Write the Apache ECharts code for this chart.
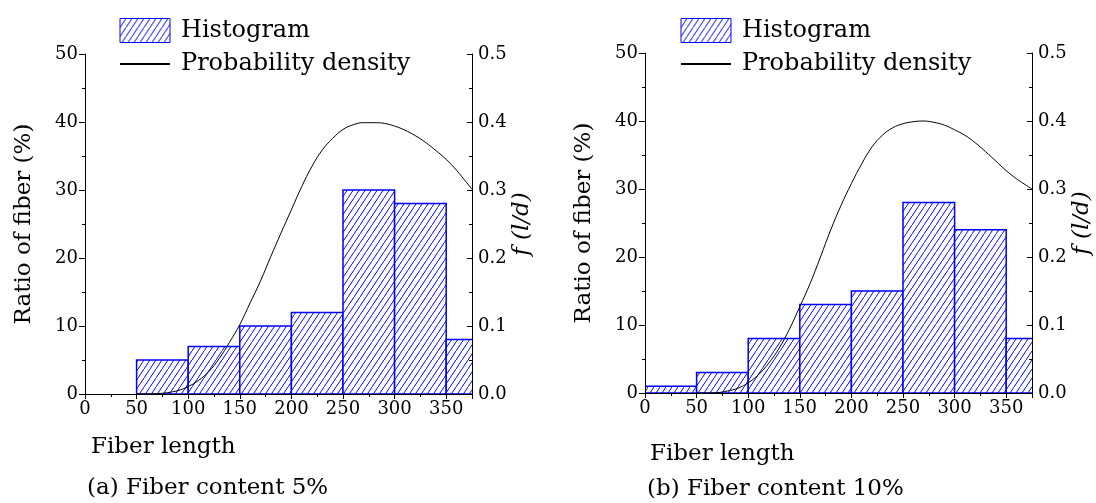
<!DOCTYPE html>
<html>
<head>
<meta charset="utf-8">
<script src="https://cdn.jsdelivr.net/npm/echarts@6/dist/echarts.min.js"></script>
<style>
html,body{margin:0;padding:0;background:#fff;}
#chart{width:1096px;height:503px;}
</style>
</head>
<body>
<div id="chart"></div>
<script>
// ---- data ----
const binStarts = [0, 50, 100, 150, 200, 250, 300, 350];
const binEnds   = [50, 100, 150, 200, 250, 300, 350, 400];
const histA = [0, 5, 7, 10, 12, 30, 28, 8];   // Fiber content 5%
const histB = [1, 3, 8, 13, 15, 28, 24, 8];   // Fiber content 10%
const curveX = [50, 60, 70, 80, 90, 100, 110, 120, 130, 140, 150, 160, 170, 180, 190, 200, 210, 220, 230, 240, 250, 260, 270, 280, 290, 300, 310, 320, 330, 340, 350, 360, 375];
const densA = [0, 0, 0.0005, 0.002, 0.005, 0.011, 0.020, 0.033, 0.052, 0.076, 0.102, 0.134, 0.166, 0.202, 0.237, 0.271, 0.305, 0.335, 0.359, 0.376, 0.389, 0.396, 0.399, 0.399, 0.398, 0.394, 0.388, 0.380, 0.370, 0.358, 0.345, 0.329, 0.301];
const densB = [0, 0, 0.0005, 0.003, 0.007, 0.015, 0.027, 0.044, 0.066, 0.094, 0.127, 0.161, 0.200, 0.240, 0.276, 0.308, 0.337, 0.362, 0.379, 0.390, 0.396, 0.399, 0.400, 0.398, 0.394, 0.387, 0.379, 0.368, 0.355, 0.341, 0.327, 0.315, 0.300];
const leftTicks = [0, 10, 20, 30, 40, 50];
const xTicks = [0, 50, 100, 150, 200, 250, 300, 350];
const xMax = 375;
const captions = ['(a) Fiber content 5%', '(b) Fiber content 10%'];

// ---- hatch pattern ----
function makeHatch() {
  const w = 6, h = 9;
  const c = document.createElement('canvas');
  c.width = w; c.height = h;
  const g = c.getContext('2d');
  g.fillStyle = '#ffffff';
  g.fillRect(0, 0, w, h);
  g.strokeStyle = '#0000ff';
  g.lineWidth = 1;
  [-h, 0, h].forEach(function (dy) {
    g.beginPath();
    g.moveTo(0, h + dy);
    g.lineTo(w, dy);
    g.stroke();
  });
  return c;
}
const hatch = { image: makeHatch(), repeat: 'repeat' };
const BLUE = '#0000ff';
const FONT = 'DejaVu Serif';

const chart = echarts.init(document.getElementById('chart'), null, { renderer: 'canvas' });

function histData(vals) {
  return vals.map(function (v, i) { return [binStarts[i], binEnds[i], v]; });
}
function curveData(ys) {
  return curveX.map(function (x, i) { return [x, ys[i]]; });
}

const grids = [
  { left: 85, top: 54, width: 387, height: 340 },
  { left: 645, top: 53, width: 387, height: 340 }
];

const axisLineStyle = { color: '#000', width: 1 };
const labelStyle = { color: '#000', fontFamily: FONT, fontSize: 18 };

const xAxes = [0, 1].map(function (i) {
  return {
    type: 'value', gridIndex: i, min: 0, max: xMax, interval: 50, z: 10,
    axisLine: { show: true, lineStyle: axisLineStyle },
    axisTick: { show: true, inside: false, length: 5, lineStyle: axisLineStyle },
    minorTick: { show: true, splitNumber: 2, length: 3, lineStyle: axisLineStyle },
    splitLine: { show: false },
    axisLabel: Object.assign({ margin: 6, showMaxLabel: false,
      formatter: function (v) { return xTicks.indexOf(v) >= 0 ? String(v) : ''; } }, labelStyle)
  };
});

const yAxes = [];
[0, 1].forEach(function (i) {
  yAxes.push({
    type: 'value', gridIndex: i, position: 'left', min: 0, max: 50, interval: 10, z: 10,
    name: 'Ratio of fiber (%)', nameLocation: 'middle', nameRotate: 90, nameGap: 49,
    nameTextStyle: { color: '#000', fontFamily: FONT, fontSize: 23 },
    axisLine: { show: true, lineStyle: axisLineStyle },
    axisTick: { show: true, inside: false, length: 6, lineStyle: axisLineStyle },
    minorTick: { show: true, splitNumber: 2, length: 3, lineStyle: axisLineStyle },
    splitLine: { show: false },
    axisLabel: Object.assign({ margin: 7,
      formatter: function (v) { return leftTicks.indexOf(v) >= 0 ? String(v) : ''; } }, labelStyle)
  });
  yAxes.push({
    type: 'value', gridIndex: i, position: 'right', min: 0, max: 0.5, interval: 0.1, z: 10,
    name: 'f (l/d)', nameLocation: 'middle', nameRotate: 90, nameGap: 36,
    nameTextStyle: { color: '#000', fontFamily: FONT, fontSize: 23, fontStyle: 'italic' },
    axisLine: { show: true, lineStyle: axisLineStyle },
    axisTick: { show: true, inside: true, length: 5, lineStyle: axisLineStyle },
    minorTick: { show: true, splitNumber: 2, length: 3, lineStyle: axisLineStyle },
    splitLine: { show: false },
    axisLabel: Object.assign({ margin: 6,
      formatter: function (v) { return v.toFixed(1); } }, labelStyle)
  });
});

function histSeries(vals, gi) {
  return {
    type: 'custom', name: 'Histogram', xAxisIndex: gi, yAxisIndex: gi * 2,
    clip: true, z: 2,
    itemStyle: { color: hatch, borderColor: BLUE, borderWidth: 1.5 },
    encode: { x: [0, 1], y: 2 },
    data: histData(vals),
    renderItem: function (params, api) {
      const v = api.value(2);
      if (!v) return null;
      const p0 = api.coord([api.value(0), v]);
      const p1 = api.coord([api.value(1), 0]);
      return {
        type: 'rect',
        shape: { x: p0[0], y: p0[1], width: p1[0] - p0[0], height: p1[1] - p0[1] },
        style: { fill: hatch, stroke: BLUE, lineWidth: 1.5 }
      };
    }
  };
}
function curveSeries(ys, gi) {
  return {
    type: 'line', name: 'Probability density', xAxisIndex: gi, yAxisIndex: gi * 2 + 1,
    z: 4, smooth: 0.4, symbol: 'none', showSymbol: false,
    lineStyle: { color: '#000', width: 1 }, itemStyle: { color: '#000' },
    data: curveData(ys)
  };
}

function legendFor(left) {
  return {
    orient: 'vertical', left: left, top: 18, padding: 0,
    itemWidth: 50, itemHeight: 24, itemGap: 9,
    selectedMode: false,
    textStyle: { color: '#000', fontFamily: FONT, fontSize: 24, padding: [0, 0, 0, 6] },
    data: [
      { name: 'Histogram', icon: 'rect', itemStyle: { color: hatch, borderColor: BLUE, borderWidth: 1 } },
      { name: 'Probability density', lineStyle: { color: '#000', width: 2 },
        itemStyle: { color: 'rgba(0,0,0,0)', borderWidth: 0, opacity: 0 } }
    ]
  };
}

function gText(txt, x, y) {
  return { type: 'text', left: x, top: y, style: { text: txt, fill: '#000', font: '23px "' + FONT + '"' } };
}

chart.setOption({
  animation: false,
  backgroundColor: '#ffffff',
  grid: grids,
  xAxis: xAxes,
  yAxis: yAxes,
  legend: [legendFor(119), legendFor(680)],
  series: [histSeries(histA, 0), curveSeries(densA, 0), histSeries(histB, 1), curveSeries(densB, 1)],
  graphic: [
    gText('Fiber length', 91, 436),
    gText('Fiber length', 650, 443),
    gText(captions[0], 87, 477),
    gText(captions[1], 647, 478)
  ]
});
</script>
</body>
</html>
